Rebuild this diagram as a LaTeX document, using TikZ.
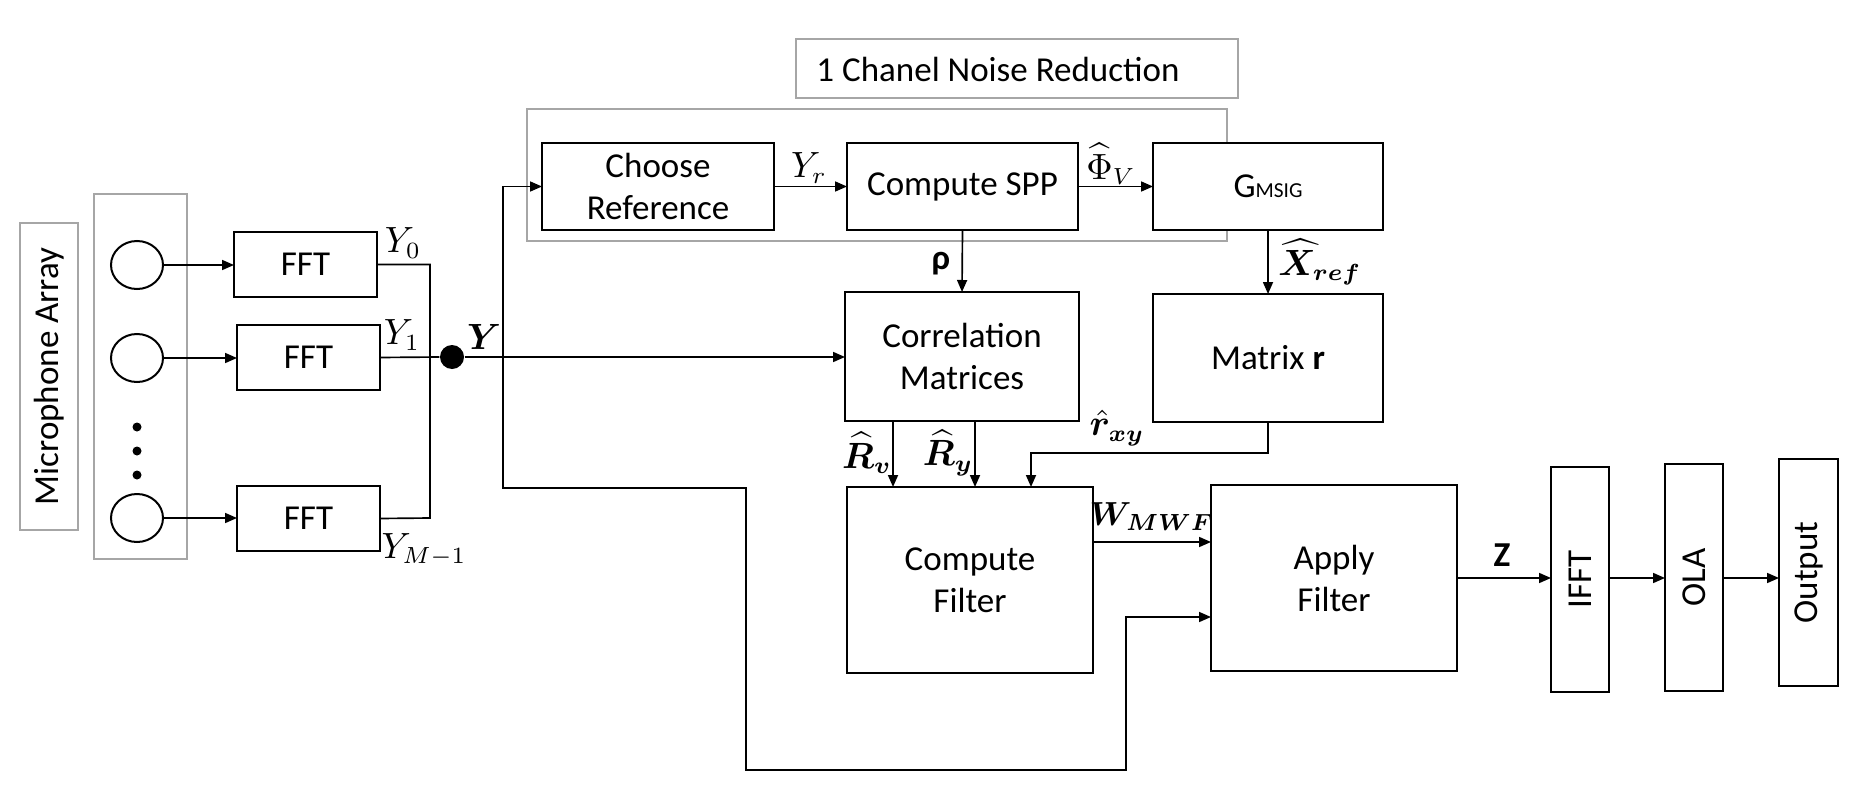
\documentclass[tikz,border=0pt]{standalone}
\usepackage{amsmath,bm}
\usepackage{fontspec}
\setmainfont{Carlito}
\usetikzlibrary{arrows.meta,shapes.geometric,calc}
\definecolor{grayline}{RGB}{166,166,166}
\begin{document}
\begin{tikzpicture}[x=0.3pt,y=-0.3pt,
  font=\fontsize{10.5}{12.6}\selectfont,
  bx/.style 2 args={draw=black, fill=white, line width=0.7pt, rectangle, inner sep=0pt, outer sep=0pt, minimum width=#1*0.3pt, minimum height=#2*0.3pt, align=center},
  gbx/.style 2 args={bx={#1}{#2}, draw=grayline, line width=0.65pt},
  mic/.style={draw=black, line width=0.6pt, ellipse, inner sep=0pt, outer sep=0pt, minimum width=52*0.3pt, minimum height=48*0.3pt},
  smalldot/.style={circle, fill=black, inner sep=0pt, minimum size=9*0.3pt},
  conn/.style={draw=black, line width=0.5pt},
  arr/.style={conn, -{Triangle[length=3.6pt,width=3pt]}},
  lbl/.style={inner sep=0pt}
]
\useasboundingbox (0,0) rectangle (1876,795);
\fill[white] (0,0) rectangle (1876,795);

% left part
\node[gbx={58}{307}] (miclbl) at (49,376.5) {\rotatebox{90}{Microphone Array}};
\node[gbx={93}{365}] (micgrp) at (140.5,376.5) {};
\node[mic] (m1) at (137,265) {};
\node[mic] (m2) at (137,358) {};
\node[mic] (m3) at (137,518) {};
\node[smalldot] (d1) at (137,427) {};
\node[smalldot] (d2) at (137,451) {};
\node[smalldot] (d3) at (137,475) {};

\node[bx={143}{65}] (fft1) at (305.5,264.5) {FFT};
\node[bx={143}{65}] (fft2) at (308.5,357.5) {FFT};
\node[bx={143}{65}] (fft3) at (308.5,518.5) {FFT};

\draw[arr] (m1.east) -- (m1.east -| fft1.west);
\draw[arr] (m2.east) -- (m2.east -| fft2.west);
\draw[arr] (m3.east) -- (m3.east -| fft3.west);

\coordinate (b3) at (430,518);
\draw[conn] (fft1.east) -| (b3) -- (fft3.east);
\node[circle, fill=black, inner sep=0pt, minimum size=24*0.3pt] (dot) at (452,357) {};
\draw[conn] (fft2.east) -- (dot.west);

\node[lbl] (ly0) at (403,243) {$Y_0$};
\node[lbl] (ly1) at (402,335) {$Y_1$};
\node[lbl] (lym) at (424,550) {$Y_{M-1}$};
\node[lbl] (lY) at (484,337) {$\bm{Y}$};

% noise reduction group
\node[gbx={442}{59}] (title) at (1017,68.5) {};
\node[lbl] (titletext) at (998,69) {1 Chanel Noise Reduction};
\node[gbx={700}{132}] (nrgrp) at (877,175) {};

\node[bx={232}{87}] (choose) at (658,186.5) {Choose\\Reference};
\node[bx={231}{87}] (spp) at (962.5,186.5) {Compute SPP};
\node[bx={230}{87}] (gmsig) at (1268,186.5) {G{\fontsize{6.4}{7}\selectfont MSIG}};

\draw[arr] (choose.east) -- (spp.west);
\draw[arr] (spp.east) -- (gmsig.west);
\node[lbl] (lyr) at (809,168) {$Y_r$};
\node[lbl] (lphi) at (1111,164) {$\widehat{\Phi}_V$};

% middle
\node[bx={234}{129}] (corr) at (962,356.5) {Correlation\\Matrices};
\node[bx={230}{128}] (matr) at (1268,358) {Matrix \textbf{r}};
\draw[arr] (spp.south) -- (corr.north);
\draw[arr] (gmsig.south) -- (matr.north);
\node[lbl] (lrho) at (941,264) {\bfseries ρ};
\node[lbl] (lxref) at (1320,262) {$\bm{\widehat{X}_{ref}}$};

\node[bx={246}{186}] (cfilt) at (970,580) {Compute\\Filter};
\node[bx={246}{186}] (apply) at (1334,578) {Apply\\Filter};

\coordinate (rv0) at (893,421);
\coordinate (ry0) at (975,421);
\draw[arr] (rv0) -- (rv0 |- cfilt.north);
\draw[arr] (ry0) -- (ry0 |- cfilt.north);
\node[lbl] (lrv) at (867,453) {$\bm{\widehat{R}_v}$};
\node[lbl] (lry) at (948,453) {$\bm{\widehat{R}_y}$};

\coordinate (rx1) at (1031,453);
\draw[arr] (matr.south) |- (rx1) -- (rx1 |- cfilt.north);
\node[lbl] (lrxy) at (1117,428) {$\bm{\hat{r}_{xy}}$};

\coordinate (w0) at (1093,542);
\draw[arr] (w0) -- (w0 -| apply.west);
\node[lbl, font=\fontsize{9.6}{11}\selectfont] (lw) at (1152,517) {$\bm{W_{MWF}}$};

% Y distribution
\coordinate (br) at (503,357);
\draw[conn] (dot.east) -- (br);
\draw[arr] (br) -- (br -| corr.west);
\draw[arr] (br) |- (choose.west);
\coordinate (c1) at (503,488);
\coordinate (c2) at (746,770);
\coordinate (c3) at (1126,617);
\draw[arr] (br) -- (c1) -| (c2) -| (c3) -- (c3 -| apply.west);

% output chain
\node[bx={58}{225}] (ifft) at (1580,579.5) {\rotatebox{90}{IFFT}};
\node[bx={58}{227}] (ola) at (1694,577.5) {\rotatebox{90}{OLA}};
\node[bx={59}{227}] (outp) at (1808.5,572.5) {\rotatebox{90}{Output}};
\coordinate (z0) at (1457,578);
\draw[arr] (z0) -- (z0 -| ifft.west);
\node[lbl] (lz) at (1502,555) {\textbf{Z}};
\draw[arr] (ifft.east |- z0) -- (z0 -| ola.west);
\draw[arr] (ola.east |- z0) -- (z0 -| outp.west);
\end{tikzpicture}
\end{document}
